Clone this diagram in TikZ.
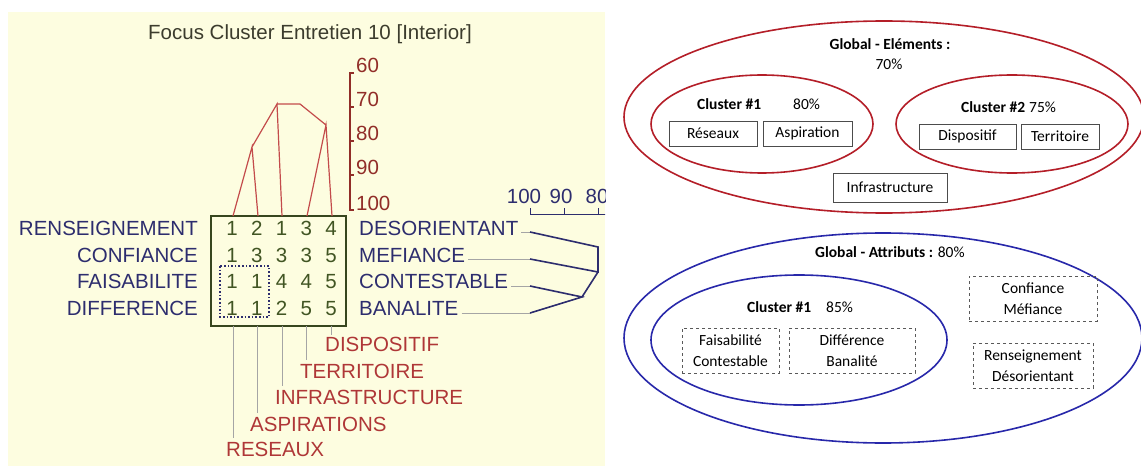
\documentclass[tikz,border=0pt]{standalone}
\usepackage{fontspec}
\setmainfont{Carlito}
\newfontfamily\arialfont{Liberation Sans}
\usepackage{tikz}

\definecolor{chartbg}{RGB}{253,253,224}
\definecolor{titlegray}{RGB}{60,60,45}
\definecolor{navyname}{RGB}{45,45,110}
\definecolor{olivenum}{RGB}{65,85,35}
\definecolor{olivebox}{RGB}{55,70,30}
\definecolor{redname}{RGB}{175,55,55}
\definecolor{redlink}{RGB}{195,75,75}
\definecolor{redaxis}{RGB}{145,45,40}
\definecolor{leadgray}{RGB}{165,165,165}
\definecolor{ellred}{RGB}{180,30,40}
\definecolor{ellblue}{RGB}{40,40,170}

\newcommand{\digrow}[5]{\makebox[24.75pt]{#1}\makebox[24.75pt]{#2}\makebox[24.75pt]{#3}\makebox[24.75pt]{#4}\makebox[24.75pt]{#5}}

\begin{document}
\begin{tikzpicture}[x=1pt, y=-1pt,
  hdr/.style={font=\arialfont\fontsize{20.5}{24}\selectfont, text=titlegray, inner sep=0pt, anchor=base},
  rowlab/.style={font=\arialfont\fontsize{20.5}{24}\selectfont, text=navyname, inner sep=0pt},
  numrow/.style={font=\arialfont\fontsize{20.5}{24}\selectfont, text=olivenum, inner sep=0pt, anchor=base},
  collab/.style={font=\arialfont\fontsize{20.5}{24}\selectfont, text=redname, inner sep=0pt, anchor=north west},
  axlab/.style={font=\arialfont\fontsize{20.5}{24}\selectfont, text=redaxis, inner sep=0pt, anchor=base west},
  sclab/.style={font=\arialfont\fontsize{20.5}{24}\selectfont, text=navyname, inner sep=0pt, anchor=base},
  link/.style={draw=redlink, line width=1.2pt},
  tree/.style={draw=navyname, line width=1.6pt},
  lead/.style={draw=leadgray, line width=0.8pt},
  ring/.style={line width=1.6pt},
  ctitle/.style={inner sep=0pt, anchor=base west, font=\fontsize{15.5}{19}\selectfont},
  item/.style={draw=black!70, line width=0.8pt, inner sep=0pt, minimum height=25pt, font=\fontsize{15.5}{19}\selectfont},
  attr/.style={draw=black!65, dashed, line width=0.8pt, inner sep=0pt, align=center, minimum height=45pt, font=\fontsize{15.5}{21}\selectfont}]
\fill[white] (0,0) rectangle (1141,468);
\useasboundingbox (0,0) rectangle (1141,468);

% left panel: dendrogram screenshot
\begin{scope}
\clip (8,12) rectangle (605,466);
\fill[chartbg] (8,12) rectangle (605,466);
\node[hdr] (title) at (310,40) {Focus Cluster Entretien 10 [Interior]};

\node[rowlab, anchor=base east] (ren) at (198,235) {RENSEIGNEMENT};
\node[rowlab, anchor=base east] (con) at (198,262) {CONFIANCE};
\node[rowlab, anchor=base east] (fai) at (198,288) {FAISABILITE};
\node[rowlab, anchor=base east] (dif) at (198,315) {DIFFERENCE};
\node[rowlab, anchor=base west] (des) at (359,235) {DESORIENTANT};
\node[rowlab, anchor=base west] (mef) at (359,262) {MEFIANCE};
\node[rowlab, anchor=base west] (cst) at (359,288) {CONTESTABLE};
\node[rowlab, anchor=base west] (ban) at (359,315) {BANALITE};

\node[numrow] (row1) at (281.5,235) {\digrow{1}{2}{1}{3}{4}};
\node[numrow] (row2) at (281.5,262) {\digrow{1}{3}{3}{3}{5}};
\node[numrow] (row3) at (281.5,288) {\digrow{1}{1}{4}{4}{5}};
\node[numrow] (row4) at (281.5,315) {\digrow{1}{1}{2}{5}{5}};
\draw[olivebox, line width=1.5pt] (211,216) rectangle (346,326);
\draw[navyname, dotted, line width=1.6pt] (220,266) rectangle (269,317);

% column tree (top)
\coordinate (t1) at (233,216);
\coordinate (t2) at (258,216);
\coordinate (t3) at (282,216);
\coordinate (t4) at (307,216);
\coordinate (t5) at (332,216);
\coordinate (ka) at (252,147);
\coordinate (kb) at (277,104);
\coordinate (kc) at (300,104);
\coordinate (kd) at (326,125);
\draw[link] (t1) -- (ka) -- (t2) (ka) -- (kb) -- (t3) (kb) -- (kc) -- (kd) (t4) -- (kd) -- (t5);
\draw[redaxis, line width=1.2pt] (354,73) -- (350,73) -- (350,210) -- (354,210)
  (350,107) -- (354,107) (350,141) -- (354,141) (350,175) -- (354,175);
\node[axlab] (a60) at (356,73) {60};
\node[axlab] (a70) at (356,107) {70};
\node[axlab] (a80) at (356,141) {80};
\node[axlab] (a90) at (356,175) {90};
\node[axlab] (a100) at (356,211) {100};

% column names (bottom)
\node[collab] (res) at (226,442) {RESEAUX};
\node[collab] (asp) at (250,417) {ASPIRATIONS};
\node[collab] (inf) at (275,390) {INFRASTRUCTURE};
\node[collab] (ter) at (300,364) {TERRITOIRE};
\node[collab] (dis) at (325,337) {DISPOSITIF};
\coordinate (b1) at (233,326);
\coordinate (b2) at (257,326);
\coordinate (b3) at (282,326);
\coordinate (b4) at (306,326);
\coordinate (b5) at (331,326);
\draw[lead, shorten >=4pt] (b1) -- (b1 |- res.north);
\draw[lead, shorten >=4pt] (b2) -- (b2 |- asp.north);
\draw[lead, shorten >=4pt] (b3) -- (b3 |- inf.north);
\draw[lead, shorten >=4pt] (b4) -- (b4 |- ter.north);
\draw[lead, shorten >=2pt] (b5) -- (b5 |- dis.north);

% row tree (right)
\coordinate (d1) at (530,232);
\coordinate (d2) at (530,259);
\coordinate (d3) at (530,286);
\coordinate (d4) at (530,313);
\coordinate (ja) at (598,247);
\coordinate (jb) at (598,272);
\coordinate (jc) at (582,297);
\draw[lead, shorten <=3pt] (d1 -| des.east) -- (d1);
\draw[lead, shorten <=3pt] (d2 -| mef.east) -- (d2);
\draw[lead, shorten <=3pt] (d3 -| cst.east) -- (d3);
\draw[lead, shorten <=3pt] (d4 -| ban.east) -- (d4);
\draw[tree] (d1) -- (ja) -- (jb) -- (d2) (d3) -- (jc) -- (d4) (jc) -- (jb);
\draw[navyname, line width=1pt] (530,208) -- (530,214) -- (610,214) (564,208) -- (564,214) (598,208) -- (598,214);
\node[sclab] (s100) at (524,204) {100};
\node[sclab] (s90) at (561,204) {90};
\node[sclab] (s80) at (597,204) {80};
\end{scope}

% right panel: elements
\draw[ring, ellred] (884,117) ellipse [x radius=260pt, y radius=96pt];
\draw[ring, ellred] (762,124) ellipse [x radius=111pt, y radius=49pt];
\draw[ring, ellred] (1012,124) ellipse [x radius=116pt, y radius=49pt];
\node[ctitle, anchor=base] (ge) at (890,50) {\textbf{Global - Eléments :}};
\node[ctitle, anchor=base] (gep) at (889,70) {70\%};
\node[ctitle] (ce1) at (697,110) {\textbf{Cluster \#1}};
\node[ctitle] (ce1p) at (793,110) {80\%};
\node[ctitle] (ce2) at (961,113) {\textbf{Cluster \#2}};
\node[ctitle] (ce2p) at (1029,113) {75\%};
\node[item, minimum width=88pt] (reseaux) at (713,133.5) {Réseaux};
\node[item, minimum width=89pt] (aspiration) at (807.5,133.5) {Aspiration};
\node[item, minimum width=97pt] (dispositif) at (967.5,136.5) {Dispositif};
\node[item, minimum width=78pt] (territoire) at (1060,136.5) {Territoire};
\node[item, minimum width=114pt, minimum height=29pt] (infra) at (890,187.5) {Infrastructure};

% right panel: attributes
\draw[ring, ellblue] (883,338) ellipse [x radius=259pt, y radius=105pt];
\draw[ring, ellblue] (799,340) ellipse [x radius=148pt, y radius=65pt];
\node[ctitle] (ga) at (815,257) {\textbf{Global - Attributs :} 80\%};
\node[ctitle] (ca1) at (747,312) {\textbf{Cluster \#1}};
\node[ctitle] (ca1p) at (826,312) {85\%};
\node[attr, minimum width=97pt] (faicst) at (730.5,350.5) {Faisabilité\\Contestable};
\node[attr, minimum width=126pt] (difban) at (852,350.5) {Différence\\Banalité};
\node[attr, minimum width=128pt] (conmef) at (1033,298.5) {Confiance\\Méfiance};
\node[attr, minimum width=120pt] (rendes) at (1033,365.5) {Renseignement\\Désorientant};
\end{tikzpicture}
\end{document}
